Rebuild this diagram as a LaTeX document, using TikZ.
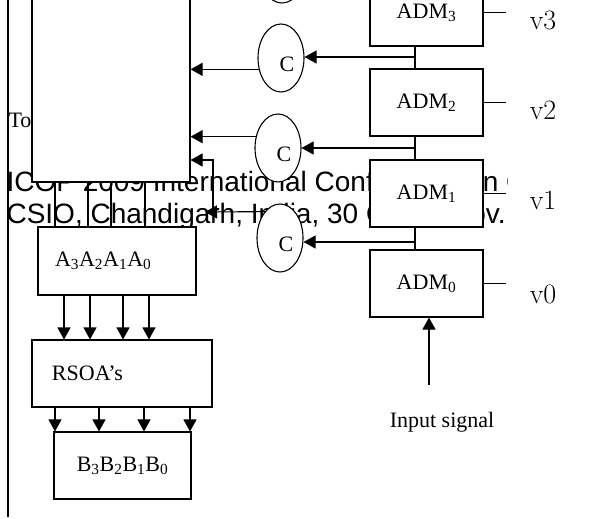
\documentclass[tikz,border=0pt]{standalone}
\usepackage{fontspec}
\newfontfamily\tnr{Liberation Serif}
\newfontfamily\hlv{Liberation Sans}
\newcommand\txtfont{\tnr\fontsize{22}{26}\selectfont}
\usetikzlibrary{arrows.meta,positioning,calc,shapes.geometric}

\begin{document}
\begin{tikzpicture}[x=1pt,y=-1pt,>={Triangle[length=12pt,width=13pt]},line width=1.1pt,
  box/.style={draw,fill=white,inner sep=0pt,font=\txtfont},
  adm/.style={box,minimum width=113pt,minimum height=67pt},
  cmp/.style={draw,fill=white,ellipse,minimum width=46pt,minimum height=68pt,inner sep=0pt,
    label={[font=\txtfont,xshift=6pt,yshift=-6pt]center:C}},
  vlab/.style={font=\fontsize{28}{32}\selectfont,inner sep=0pt}]
\useasboundingbox (0,0) rectangle (590,519);
\clip (0,0) rectangle (590,519);
\begin{scope}
\clip (0,150) rectangle (507,240);
\node[anchor=base west,inner sep=0pt,font=\hlv\fontsize{28}{32}\selectfont] (ft1) at (6,191) {ICOP 2009 International Conference on O};
\node[anchor=base west,inner sep=0pt,font=\hlv\fontsize{28}{32}\selectfont] (ft2) at (6,223) {CSIO, Chandigarh, India, 30 Oct.-1 Nov.};
\end{scope}
\node[anchor=base west,inner sep=0pt,font=\txtfont] (to) at (8,128) {To};
\draw (8,-5) -- (8,517);

\node[box,minimum width=158pt,minimum height=222pt] (proc) at (111,71) {};

\node[adm] (adm3) at (426.5,12.5) {ADM\textsubscript{3}};
\node[adm] (adm2) at (426.5,102.5) {ADM\textsubscript{2}};
\node[adm] (adm1) at (426.5,193.5) {ADM\textsubscript{1}};
\node[adm] (adm0) at (426.5,283.5) {ADM\textsubscript{0}};
\node[vlab] (v3) at (543,20) {v3};
\node[vlab] (v2) at (543,110) {v2};
\node[vlab] (v1) at (543,200) {v1};
\node[vlab] (v0) at (543,294) {v0};
\foreach \i in {0,...,3}
  \draw[shorten >=23pt] (adm\i.east) -- (adm\i.east -| v\i.west);

\node[cmp] (c4) at (282,-31) {};
\node[cmp] (c3) at (281,58) {};
\node[cmp] (c2) at (278,148) {};
\node[cmp] (c1) at (280,238) {};

\coordinate (j3) at (415,57);
\coordinate (j2) at (415,148);
\coordinate (j1) at (415,242);
\draw (adm3.south -| j3) -- (adm2.north -| j3);
\draw (adm2.south -| j2) -- (adm1.north -| j2);
\draw (adm1.south -| j1) -- (adm0.north -| j1);
\draw[->] (j3) -- (j3 -| c3.east);
\draw[->] (j2) -- (j2 -| c2.east);
\draw[->] (j1) -- (j1 -| c1.east);

\draw[->] (c3.207) -- (c3.207 -| proc.east);
\draw[->] (c2.153) -- (c2.153 -| proc.east);
\coordinate (elb) at (213,212);
\draw[->] (c1.120) -- ([xshift=-8pt]elb);
\draw[->] (elb) |- ([yshift=52pt]proc.east |- elb);

\node[box,minimum width=158pt,minimum height=68pt,text width=124pt,align=left] (abox) at (117,261) {A\textsubscript{3}A\textsubscript{2}A\textsubscript{1}A\textsubscript{0}};
\node[box,minimum width=180pt,minimum height=67pt,text width=140pt,align=left] (rsoa) at (122,373.5) {RSOA’s};
\node[box,minimum width=137pt,minimum height=67pt] (bbox) at (122.5,465.5) {B\textsubscript{3}B\textsubscript{2}B\textsubscript{1}B\textsubscript{0}};

\foreach \x in {55,88,111,145}
  \draw (proc.south -| \x,0) -- (abox.north -| \x,0);
\foreach \x in {64,90,123,149}
  \draw[->] (abox.south -| \x,0) -- (rsoa.north -| \x,0);
\foreach \x in {55,99,144,190}
  \draw[->] (rsoa.south -| \x,0) -- (bbox.north -| \x,0);

\coordinate (insrc) at (429,385);
\draw[->] (insrc) -- (insrc |- adm0.south);
\node[inner sep=0pt,font=\txtfont] (inlab) at (442,422) {Input signal};
\end{tikzpicture}
\end{document}
